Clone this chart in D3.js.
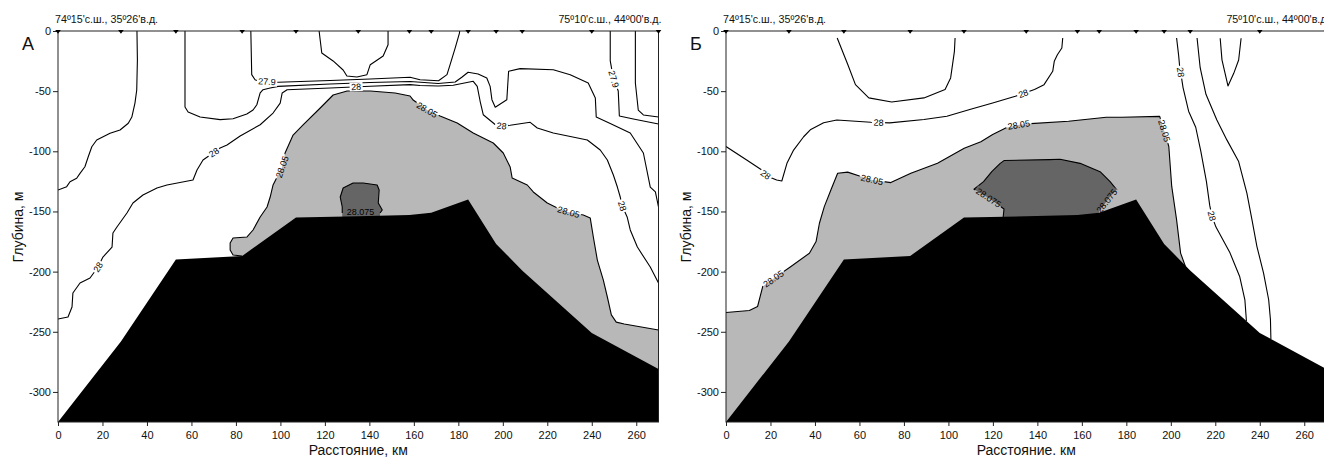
<!DOCTYPE html>
<html><head><meta charset="utf-8">
<script src="https://cdn.jsdelivr.net/npm/d3@7"></script>
<style>
html,body{margin:0;padding:0;background:#fff;overflow:hidden}
svg{display:block;font-family:"Liberation Sans",Arial,sans-serif}
</style></head><body>
<svg id="c" width="1324" height="459"></svg>
<script>
// ---------- data (distance km, depth m) ----------
const kmTicks = [0,20,40,60,80,100,120,140,160,180,200,220,240,260];
const depthTicks = [0,50,100,150,200,250,300];
const stations = [0,28.3,53,82.8,107,135,158,167.8,184.4,197,208.7,240,270];
const bottomDepth = [325,258,190,187,155,154,153,151,140,177,199,251,281];

// Panel A isolines
const aIsoLeft = [[35.5,0],[35.7,24.1],[35.4,49],[34.6,59.9],[33.2,71.5],[31.6,76.7],[27.9,82.3],[23.4,85],[17.4,90.6],[15.2,96.2],[13.6,104.5],[12.1,112.8],[9.9,118.3],[8.4,122.4],[5.4,125.3],[3.9,129.4],[0,132.2]];
const aIso28 = [[0,239.4],[4.5,237.7],[6.3,229.4],[6.7,217.8],[9.9,209.5],[14.4,205.3],[18,196.2],[20.2,187.9],[24.3,179.6],[24.7,167.9],[26.5,162.9],[31,151.3],[33.7,143],[38.2,136.3],[44.5,130.5],[49,128],[60.7,123.9],[62.5,115.5],[65.2,107.2],[72.9,97.3],[76,94.8],[81.9,87.3],[90.9,77.9],[96.7,68.2],[99.9,59.9],[100.8,51.5],[103,48.8],[122.4,47.4],[140.4,45.9],[158.3,44.6],[162.8,45.3],[171,45.7],[177.7,45.1],[186.7,41.8],[188.5,46],[189.8,58.4],[191.2,69.6],[197.5,79.2],[203.3,78.4],[212.3,75.9],[215.5,80.6],[222.7,84.8],[238,90.6],[243.8,98.9],[247,107.2],[249.7,119.7],[251.5,129.7],[252.8,138],[253.7,145.5],[255.9,154.6],[257.3,165.4],[260.5,179.6],[266.3,196.2],[270,209.5]];
const aIsoMid = [[57.1,0],[57.1,63.2],[58.5,67.3],[63.9,71.5],[72.9,73.7],[78.7,72.9],[84.9,69],[87.7,65.7],[89.4,61.3],[90.9,51.5],[92.2,48.8],[95.4,47.4],[99,46],[122.4,44.1],[140.4,42.8],[158.3,42],[170.9,43.6],[178.6,42.4],[181.7,38.2],[184.4,34.3],[188.9,35.7],[192.8,39.1],[194.3,46],[195.1,57.1],[196.6,63.4],[201.8,57.1],[202.6,33.5],[207.8,31.3],[222.7,32.2],[230.3,36.3],[238.4,43.2],[241.6,55.7],[242,71.5],[248.3,76.9],[257.3,84.8],[263.2,101.4],[266.3,129.7],[268.6,133.8],[270,146.3]];
const aIso279 = [[86.7,0],[87.1,36.3],[88.6,40.5],[90,41.6],[99,42.6],[122.4,41.1],[140.4,39.9],[158.3,38.5],[162.8,40.5],[171.1,41.3],[174.9,36.3],[176.3,28],[178.6,14.1],[180.5,1.7],[180.6,0]];
const aIsoBowl = [[117.4,0],[118.6,18.3],[123.7,24.9],[128.2,32.4],[129.9,37.4],[134.4,38.2],[138.9,36.3],[140.4,28],[146.2,20.8],[148.4,11.4],[148.4,0]];
const aIso279r = [[248.3,0],[248.3,24.9],[249.7,39.1],[251.9,49.9],[252.4,70.7],[258.7,73.2],[270,77.3]];
const aIsoRight = [[259.6,0],[259.6,43.2],[260.9,65.7],[263.2,69.8],[270,71.5]];
const aIso2805 = [[82.8,187],[78.7,186.2],[77.4,182],[77.4,176.2],[78.7,172.1],[85,171.2],[87.7,165.4],[90.9,154.6],[94,146.3],[95.4,138],[96.7,128],[100.8,113],[102.1,101.4],[105.7,86.5],[110.2,78.1],[117.9,64],[123.7,53.2],[130,49.9],[140.4,49.9],[151.6,51.5],[158.3,54],[159.7,57.4],[166,65.7],[171.8,70.7],[179.5,76.5],[186.7,84.8],[195.7,93.1],[200.2,101.4],[203.3,113],[204.2,122.2],[211,128],[213.7,133.8],[220,143],[224.5,147.1],[229.4,150.5],[236.2,153],[239.3,155.4],[240.7,171.2],[242.5,190.4],[245.2,207],[247,221.1],[248.8,236],[251,242],[254.6,243.6],[270,248.5]];
const aIso28075 = [[127.8,151.2],[127.8,146.3],[126.9,138],[128.2,130.5],[132.7,126.4],[137.2,126.4],[143.5,128],[144.4,132.2],[144,143],[145.8,148.8],[144.8,151.3]];

// Panel B isolines
const bIso28 = [[0,96],[9.3,107.2],[16.1,115.5],[18.3,120.5],[22.8,123.8],[25.1,124.7],[27.4,110],[30.4,99],[34.9,87.9],[37.9,82.1],[43.9,76.2],[49.8,74],[65.1,75.8],[73.6,76.4],[89,73.6],[99.3,70.9],[109.6,65.3],[119.9,59.8],[130.1,54.3],[138.7,48.7],[143,44.6],[146.9,33.5],[147.6,25.2],[149,19.7],[151,14.1],[151.4,5.8]];
const bIsoBowl = [[50,5.8],[54.8,28],[58.2,44.6],[64.2,55.6],[74.5,59],[89,55.6],[98.5,48.7],[101,39],[102.7,16.9],[103,5.8]];
const bIso28r = [[202.6,5.8],[203.5,20],[204,30],[204.5,35],[205.5,47],[208,66.7],[211.2,80],[213.5,100],[216,125],[217.5,145],[218.5,154],[220.3,163],[226.6,184.4],[231,204.3],[233.3,223.4],[234,241]];
const bIsoR2 = [[211.8,5.8],[213.2,30.5],[215.8,52.6],[220.7,74],[225.2,90.5],[230.5,108.5],[234.2,134.8],[236.5,157],[238.7,179],[241.7,201.2],[244,223.4],[244.8,240],[245,256]];
const bIsoR3 = [[222.2,6],[223,24],[225.7,45.7],[228.3,35.2],[230.5,24.1],[231.6,6]];
const bIso2805 = [[0,234],[10.5,232.3],[14.2,229],[16.5,212.4],[21.7,205.4],[29.2,195.8],[37.5,184.7],[40.5,175],[42,159.8],[44.2,146],[47.2,132],[50.2,118.2],[54.7,117.3],[60.7,121],[65.9,123.8],[74.1,126],[83.1,118.2],[95.1,110],[107.1,97.4],[114.6,92],[119.9,86.1],[126,80.5],[131.7,78],[137,77],[154,75],[171,71.7],[178,71.7],[195,71],[195.5,74],[196.9,82],[199.1,96],[200.4,129],[202.6,157],[204.4,184.6],[206.6,196],[209.3,204.3]];
const bIso28075 = [[124.5,157],[125,148],[118,138.5],[111.5,131.5],[115.8,125.2],[119.5,116.9],[123.3,110],[125,107.7],[145.5,106.9],[150.2,106.6],[159.2,110],[168.2,116.9],[172.7,125.2],[175.7,132],[172.7,137.6],[168.2,148.7],[166.7,154.2]];

// contour labels: [line, text, km, depth]
const aLabels = [
  ["aIso279","27.9",94,41.8],["aIso28","28",134,46.3],["aIso2805","28.05",166,65.7],
  ["aIso28","28",199.5,79],["aIso279r","27.9",250,40],["aIso28","28",70,101],
  ["aIso2805","28.05",100.6,113],["aIso28","28",18,196],[null,"28.075",136,150],
  ["aIso2805","28.05",229.5,150.3],["aIso28","28",253.6,145.5]
];
const bLabels = [
  ["bIso28","28",17.5,120],["bIso28","28",68.5,76],["bIso28","28",133.6,51.5],
  ["bIso2805","28.05",65.5,124],["bIso2805","28.05",131.7,78],["bIso2805","28.05",196.9,83],
  ["bIso2805","28.05",21.2,205.5],["bIso28075","28.075",118,138.5],["bIso28075","28.075",171,141],
  ["bIso28r","28",204.3,34.5],["bIso28r","28",218,154]
];

const coordLeft = "74º15'с.ш., 35º26'в.д.";
const coordRight = "75º10'с.ш., 44º00'в.д.";

const panels = [
  {x0:58, id:"a", letter:"А", xTitle:"Расстояние, км",
   lines:{aIsoLeft,aIso28,aIsoMid,aIso279,aIsoBowl,aIso279r,aIsoRight,aIso2805,aIso28075},
   light:aIso2805, dark:aIso28075, labels:aLabels},
  {x0:726, id:"b", letter:"Б", xTitle:"Расстояние. км",
   lines:{bIso28,bIsoBowl,bIso28r,bIsoR2,bIsoR3,bIso2805,bIso28075},
   light:bIso2805, dark:bIso28075, labels:bLabels}
];

// ---------- drawing ----------
const svg = d3.select("#c");
const plotTop = 31, plotBottom = 422, plotW = 600.5;
const defs = svg.append("defs");

panels.forEach(P => {
  const x = d3.scaleLinear().domain([0,270]).range([P.x0, P.x0+plotW]);
  const y = d3.scaleLinear().domain([0,325]).range([plotTop,plotBottom]);
  const line = d3.line().x(d=>x(d[0])).y(d=>y(d[1]));
  const g = svg.append("g");

  defs.append("clipPath").attr("id","clip"+P.id).append("rect")
    .attr("x",P.x0).attr("y",plotTop).attr("width",plotW).attr("height",plotBottom-plotTop);
  const mask = defs.append("mask").attr("id","mask"+P.id).attr("maskUnits","userSpaceOnUse")
    .attr("x",0).attr("y",0).attr("width",1324).attr("height",459);
  mask.append("rect").attr("x",0).attr("y",0).attr("width",1324).attr("height",459).attr("fill","#fff");

  const plot = g.append("g").attr("clip-path",`url(#clip${P.id})`);
  plot.append("rect").attr("x",P.x0).attr("y",plotTop).attr("width",plotW).attr("height",plotBottom-plotTop).attr("fill","#fff");

  const closePoly = arr => {
    const f = arr[0], l = arr[arr.length-1];
    return arr.concat([[l[0],325],[f[0],325]]);
  };
  plot.append("path").attr("d", line(closePoly(P.light))+"Z").attr("fill","#b8b8b8");
  plot.append("path").attr("d", line(closePoly(P.dark))+"Z").attr("fill","#656565");

  const lg = plot.append("g").attr("mask",`url(#mask${P.id})`);
  const nodes = {};
  Object.entries(P.lines).forEach(([name,arr]) => {
    nodes[name] = lg.append("path").attr("d", line(arr)).attr("fill","none")
      .attr("stroke","#000").attr("stroke-width",1.1).attr("stroke-linejoin","round").node();
  });

  // bathymetry
  const bathy = stations.map((s,i)=>[s,bottomDepth[i]]).concat([[270,325],[0,325]]);
  plot.append("path").attr("d", line(bathy)+"Z").attr("fill","#000");

  // labels
  const labG = plot.append("g");
  P.labels.forEach(([ln,txt,k,d]) => {
    let px = x(k), py = y(d), ang = 0;
    if (ln) {
      const nd = nodes[ln], L = nd.getTotalLength();
      let best=0, bd=Infinity;
      for (let s=0; s<=L; s+=0.5) {
        const p = nd.getPointAtLength(s);
        const dd = (p.x-px)**2 + (p.y-py)**2;
        if (dd<bd) {bd=dd; best=s;}
      }
      const p = nd.getPointAtLength(best);
      const a = nd.getPointAtLength(Math.max(0,best-9)), b = nd.getPointAtLength(Math.min(L,best+9));
      ang = Math.atan2(b.y-a.y, b.x-a.x)*180/Math.PI;
      if (ang>90) ang-=180; if (ang<=-90) ang+=180;
      px = p.x; py = p.y;
    }
    const tf = `translate(${px},${py}) rotate(${ang})`;
    const t = labG.append("text").attr("transform",tf).attr("text-anchor","middle")
      .attr("dy","0.35em").attr("font-size",9).attr("fill","#000").text(txt);
    const w = t.node().getComputedTextLength();
    mask.append("rect").attr("transform",tf).attr("x",-w/2-1.5).attr("y",-4.5)
      .attr("width",w+3).attr("height",9).attr("fill","#000");
  });

  // frame
  g.append("rect").attr("x",P.x0).attr("y",plotTop).attr("width",plotW).attr("height",plotBottom-plotTop)
    .attr("fill","none").attr("stroke","#222").attr("stroke-width",1);

  // axes
  const yAx = g.append("g").attr("transform",`translate(${P.x0},0)`)
    .call(d3.axisLeft(y).tickValues(depthTicks).tickFormat(d=> d===0 ? "0" : "-"+d).tickSize(5).tickSizeOuter(0).tickPadding(2));
  const xAx = g.append("g").attr("transform",`translate(0,${plotBottom})`)
    .call(d3.axisBottom(x).tickValues(kmTicks).tickFormat(d=>String(d)).tickSize(4).tickSizeOuter(0).tickPadding(5));
  [yAx,xAx].forEach(a => {
    a.attr("font-family",null).attr("font-size",null);
    a.select(".domain").remove();
    a.selectAll("line").attr("stroke","#222");
    a.selectAll("text").attr("font-size",11).attr("fill","#111");
  });

  // stations
  g.selectAll(".st").data(stations).join("path")
    .attr("d", s => `M${x(s)-2.8},${plotTop-1}L${x(s)+2.8},${plotTop-1}L${x(s)},${plotTop+2.8}Z`)
    .attr("fill","#000");

  // texts
  g.append("text").attr("x",P.x0-3).attr("y",23).attr("font-size",10.7).attr("fill","#111").text(coordLeft);
  g.append("text").attr("x",P.x0+plotW+3).attr("y",23).attr("text-anchor","end").attr("font-size",10.7).attr("fill","#111").text(coordRight);
  g.append("text").attr("x",P.x0-36).attr("y",50).attr("font-size",18).attr("fill","#111").text(P.letter);
  g.append("text").attr("transform",`translate(${P.x0-35},227) rotate(-90)`).attr("text-anchor","middle")
    .attr("font-size",14).attr("fill","#111").text("Глубина, м");
  g.append("text").attr("x",P.x0+plotW/2).attr("y",455).attr("text-anchor","middle")
    .attr("font-size",14).attr("fill","#111").text(P.xTitle);
});
</script>
</body></html>
